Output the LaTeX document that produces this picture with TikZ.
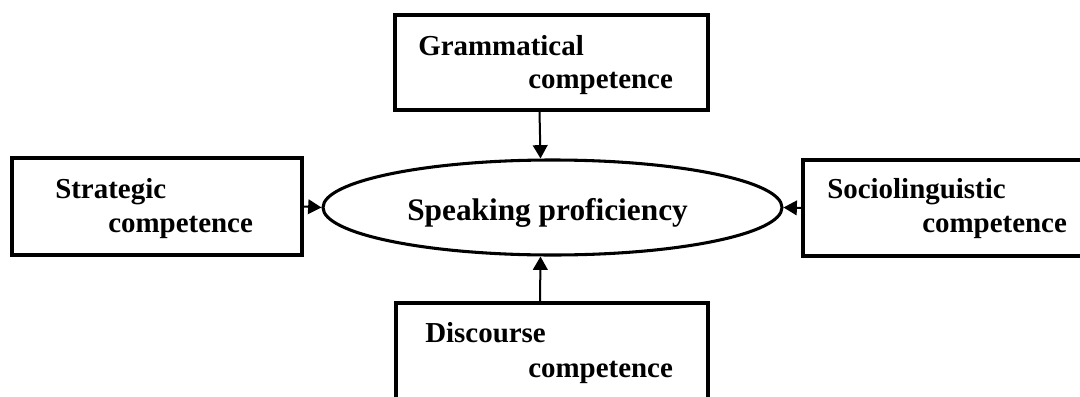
\documentclass[tikz,border=0pt]{standalone}
\usepackage{fontspec}
\setmainfont{Liberation Serif}
\usetikzlibrary{shapes.geometric,arrows.meta}
\begin{document}
\begin{tikzpicture}[x=0.75pt,y=-0.75pt,
  box/.style={draw=black,line width=2.3pt,rectangle,inner sep=0pt},
  lbl/.style={anchor=base west,inner sep=0pt,font=\fontsize{21.7}{26}\selectfont\bfseries},
  arr/.style={line width=1.5pt,-{Triangle[length=10pt,width=11pt]}}]
\useasboundingbox (0,0) rectangle (1080,396);
\clip (0,0) rectangle (1080,396);
% boxes
\node[box,minimum width=313*0.75pt,minimum height=95*0.75pt] (top) at (551.5,62.5) {};
\node[box,minimum width=290*0.75pt,minimum height=97*0.75pt] (left) at (157,206.5) {};
\node[box,minimum width=300*0.75pt,minimum height=96*0.75pt] (right) at (953,208) {};
\node[box,minimum width=312*0.75pt,minimum height=130*0.75pt] (bottom) at (552,368) {};
\node[draw=black,line width=2.3pt,ellipse,inner sep=0pt,minimum width=459*0.75pt,minimum height=95*0.75pt] (ell) at (552.5,207.5) {};
% texts
\node[lbl] (t1) at (418,55) {Grammatical};
\node[lbl] (t2) at (528,88) {competence};
\node[lbl] (l1) at (55,198) {Strategic};
\node[lbl] (l2) at (108,232) {competence};
\node[lbl] (r1) at (827,198) {Sociolinguistic};
\node[lbl] (r2) at (922,232) {competence};
\node[lbl] (b1) at (425,342) {Discourse};
\node[lbl] (b2) at (528,377) {competence};
\node[anchor=base west,inner sep=0pt,font=\fontsize{23.5}{28}\selectfont\bfseries] (sp) at (407,220) {Speaking proficiency};
% arrows
\draw[arr] ([xshift=-9pt]top.south) -- ([xshift=-9pt]ell.north);
\draw[arr] ([xshift=-9pt]bottom.north) -- ([xshift=-9pt]ell.south);
\draw[arr] (left.east) -- (ell.west);
\draw[arr] (right.west) -- (ell.east);
\end{tikzpicture}
\end{document}
